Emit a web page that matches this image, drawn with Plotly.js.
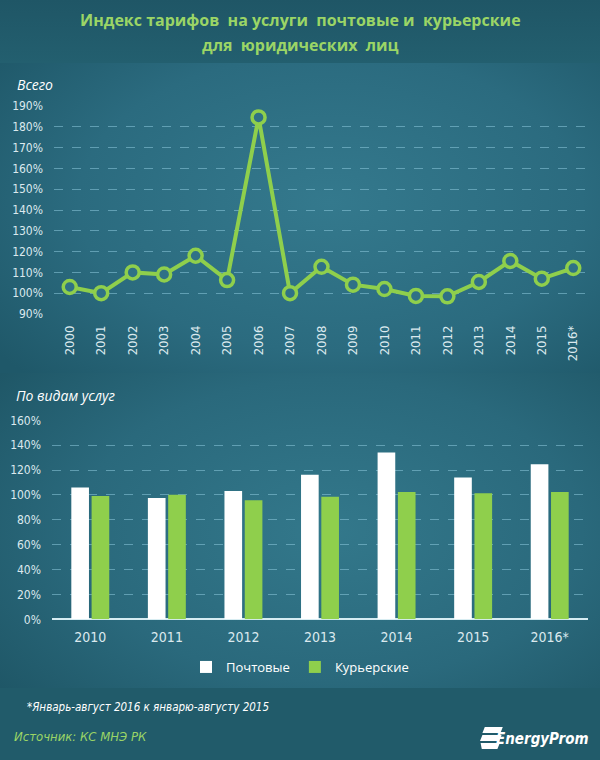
<!DOCTYPE html>
<html>
<head>
<meta charset="utf-8">
<script src="https://cdn.plot.ly/plotly-3.0.1.min.js"></script>
<style>
html,body{margin:0;padding:0;width:600px;height:760px;overflow:hidden;}
#wrap{position:relative;width:600px;height:760px;background:#215b6a;}
.band{position:absolute;left:0;width:600px;}
#hdr{top:0;height:63px;background:linear-gradient(180deg,#1f5666 0%,#235f6f 100%);}
#p1{top:63px;height:310px;background:radial-gradient(ellipse 70% 80% at 55% 45%,#34798d 0%,#2b6b7f 60%,#1f5869 100%);}
#p2{top:373px;height:315px;background:radial-gradient(ellipse 70% 80% at 55% 50%,#33788b 0%,#2a697c 60%,#1f5767 100%);}
#ftr{top:688px;height:72px;background:#215b6a;}
#chart{position:absolute;left:0;top:0;width:600px;height:760px;}
</style>
</head>
<body>
<div id="wrap">
<div class="band" id="hdr"></div>
<div class="band" id="p1"></div>
<div class="band" id="p2"></div>
<div class="band" id="ftr"></div>
<div id="chart"></div>
</div>
<script>
// Top chart: total index
const years = ["2000","2001","2002","2003","2004","2005","2006","2007","2008","2009","2010","2011","2012","2013","2014","2015","2016*"];
const totalIndex = [103, 100, 110, 109, 118, 106.3, 184.5, 100, 112.7, 104.1, 102, 98.7, 98.5, 105.4, 115.5, 107, 112.1];
const topTicks = [90,100,110,120,130,140,150,160,170,180,190];

// Bottom chart: by service type
const barYears = ["2010","2011","2012","2013","2014","2015","2016*"];
const postal = [106, 97.5, 103.1, 116.2, 134.2, 114.1, 124.6];
const courier = [99.1, 100.2, 95.7, 98.6, 102.3, 101.3, 102.3];
const bottomTicks = [0,20,40,60,80,100,120,140,160];

const pct = a => a.map(v => v + "%");
const green = "#8fcf4c";
const narrow = "Liberation Sans Narrow, DejaVu Sans Condensed, Liberation Sans, sans-serif";
const tickFont = {family: narrow, size: 12, color: "#dbe9ee"};
const gridCol = "rgba(140,200,220,0.55)";

const traces = [
  {
    x: years, y: totalIndex, type: "scatter", mode: "lines+markers",
    xaxis: "x", yaxis: "y", showlegend: false,
    line: {color: green, width: 4},
    marker: {size: 13, color: "#2f7186", line: {color: green, width: 3.5}},
    cliponaxis: false
  },
  {
    x: barYears, y: postal, type: "bar", name: "Почтовые",
    xaxis: "x2", yaxis: "y2", marker: {color: "#ffffff"}
  },
  {
    x: barYears, y: courier, type: "bar", name: "Курьерские",
    xaxis: "x2", yaxis: "y2", marker: {color: green}
  }
];

const layout = {
  width: 600, height: 760,
  margin: {l: 0, r: 0, t: 0, b: 0},
  paper_bgcolor: "rgba(0,0,0,0)", plot_bgcolor: "rgba(0,0,0,0)",
  font: {family: "Liberation Sans, sans-serif", color: "#ffffff"},
  showlegend: true,
  legend: {
    orientation: "h", x: 0.5, xanchor: "center", y: 1 - 667/760, yanchor: "middle",
    font: {family: "Open Sans, Liberation Sans, sans-serif", size: 13, color: "#ffffff"},
    itemwidth: 30, bgcolor: "rgba(0,0,0,0)"
  },
  barmode: "group", bargap: 0.47, bargroupgap: 0.13,
  xaxis: {
    domain: [54/600, 589/600], anchor: "y", type: "category",
    range: [-0.5, 16.5], tickangle: -90, tickfont: {family: narrow, size: 13, color: "#dbe9ee"},
    showgrid: false, zeroline: false, showline: false, ticks: "", ticklabelstandoff: 8,
    fixedrange: true
  },
  yaxis: {
    domain: [1 - 314/760, 1 - 106/760], anchor: "x",
    range: [90, 190], tickvals: topTicks, ticktext: pct(topTicks),
    tickfont: tickFont, showgrid: true, gridcolor: gridCol, griddash: "dash", gridwidth: 1,
    zeroline: false, showline: false, ticks: "", ticklabelstandoff: 10
  },
  xaxis2: {
    domain: [52/600, 588/600], anchor: "y2", type: "category",
    tickfont: {family: narrow, size: 14, color: "#dbe9ee"},
    showgrid: false, zeroline: false, showline: false, ticks: "", ticklabelstandoff: 8
  },
  yaxis2: {
    domain: [1 - 619.3/760, 1 - 420.3/760], anchor: "x2",
    range: [0, 160], tickvals: bottomTicks, ticktext: pct(bottomTicks),
    tickfont: tickFont, showgrid: true, gridcolor: gridCol, griddash: "dash", gridwidth: 1,
    zeroline: true, zerolinecolor: "#d6ecf2", zerolinewidth: 2, showline: false, ticks: "", ticklabelstandoff: 10
  },
  annotations: [
    {text: "<b>Индекс тарифов  на услуги  почтовые и  курьерские</b>", x: 0.5, y: 1 - 20/760, xref: "paper", yref: "paper",
     showarrow: false, xanchor: "center", yanchor: "middle",
     font: {family: "Open Sans, Liberation Sans, sans-serif", size: 16, color: "#9bd566"}},
    {text: "<b>для  юридических  лиц</b>", x: 0.5, y: 1 - 45/760, xref: "paper", yref: "paper",
     showarrow: false, xanchor: "center", yanchor: "middle",
     font: {family: "Open Sans, Liberation Sans, sans-serif", size: 16, color: "#9bd566"}},
    {text: "<i>Всего</i>", x: 15/600, y: 1 - 84/760, xref: "paper", yref: "paper",
     showarrow: false, xanchor: "left", yanchor: "middle",
     font: {family: "Open Sans, Liberation Sans, sans-serif", size: 14, color: "#ffffff"}},
    {text: "<i>По видам услуг</i>", x: 14/600, y: 1 - 396/760, xref: "paper", yref: "paper",
     showarrow: false, xanchor: "left", yanchor: "middle",
     font: {family: "Open Sans, Liberation Sans, sans-serif", size: 14, color: "#ffffff"}},
    {text: "<i>*Январь-август 2016 к январю-августу 2015</i>", x: 25/600, y: 1 - 707/760, xref: "paper", yref: "paper",
     showarrow: false, xanchor: "left", yanchor: "middle",
     font: {family: narrow, size: 11.5, color: "#ffffff"}},
    {text: "<i>Источник: КС МНЭ РК</i>", x: 12/600, y: 1 - 736/760, xref: "paper", yref: "paper",
     showarrow: false, xanchor: "left", yanchor: "middle",
     font: {family: narrow, size: 13, color: "#9bd566"}},
    {text: "<b><i>EnergyProm</i></b>", x: 591/600, y: 1 - 739/760, xref: "paper", yref: "paper",
     showarrow: false, xanchor: "right", yanchor: "middle",
     font: {family: narrow, size: 15, color: "#ffffff"}}
  ],
  shapes: [
    {type: "path", xref: "paper", yref: "paper",
     path: "M 0.808 0.0434 L 0.838 0.0434 L 0.834 0.0355 L 0.804 0.0355 Z", fillcolor: "#ffffff", line: {width: 0}},
    {type: "path", xref: "paper", yref: "paper",
     path: "M 0.804 0.0329 L 0.836 0.0329 L 0.832 0.0250 L 0.800 0.0250 Z", fillcolor: "#ffffff", line: {width: 0}},
    {type: "path", xref: "paper", yref: "paper",
     path: "M 0.801 0.0224 L 0.833 0.0224 L 0.829 0.0145 L 0.803 0.0145 Z", fillcolor: "#ffffff", line: {width: 0}}
  ]
};

Plotly.newPlot("chart", traces, layout, {displayModeBar: false, staticPlot: true});
</script>
</body>
</html>
